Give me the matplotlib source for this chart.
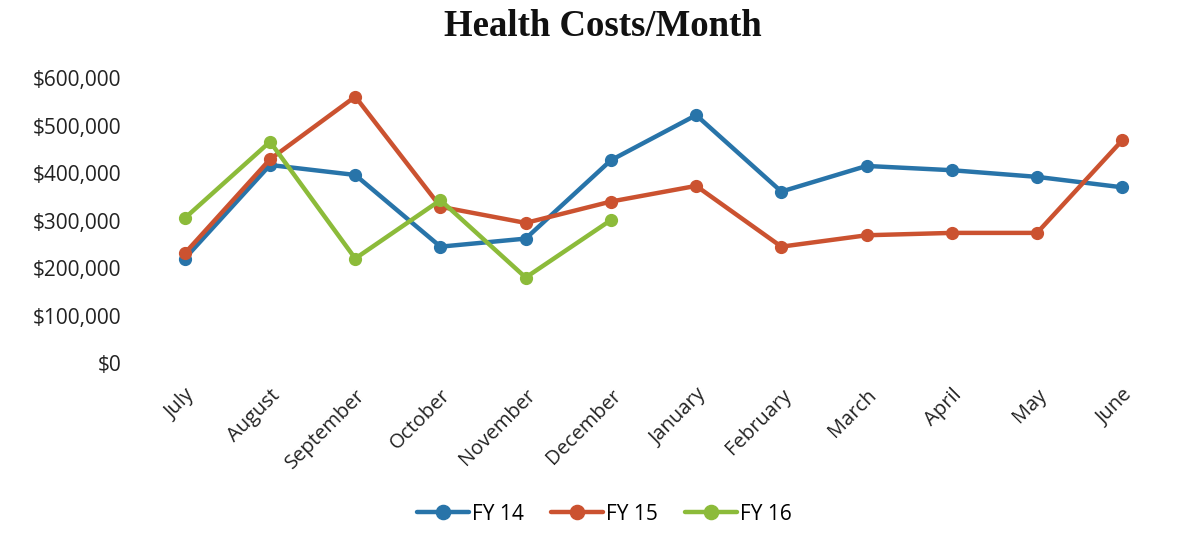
import matplotlib
matplotlib.use("Agg")
import matplotlib.pyplot as plt
from matplotlib.ticker import FuncFormatter

months = ["July", "August", "September", "October", "November", "December",
          "January", "February", "March", "April", "May", "June"]
fy14 = [220000, 417000, 396000, 245000, 262000, 427000,
        522000, 361000, 415000, 406000, 392000, 370000]
fy15 = [231000, 429000, 561000, 329000, 295000, 340000,
        373000, 245000, 269000, 274000, 274000, 469000]
fy16 = [305000, 466000, 220000, 343000, 180000, 301000]
series_names = ["FY 14", "FY 15", "FY 16"]
colors = ["#2874A9", "#CB5230", "#8CBB3A"]
yticks = [0, 100000, 200000, 300000, 400000, 500000, 600000]

fig = plt.figure(figsize=(11.85, 5.5), dpi=100)
ax = fig.add_axes([0.12, 0.34, 0.863, 0.518])

x = list(range(len(months)))
for vals, name, c in zip([fy14, fy15, fy16], series_names, colors):
    ax.plot(x[:len(vals)], vals, color=c, lw=3.2, marker="o", ms=8.5,
            label=name, solid_capstyle="round", solid_joinstyle="round")

ax.set_xlim(-0.5, len(months) - 0.5)
ax.set_ylim(0, 600000)
ax.set_yticks(yticks)
ax.yaxis.set_major_formatter(FuncFormatter(lambda v, p: "${:,.0f}".format(v)))
ax.set_xticks(x)
ax.set_xticklabels(months, rotation=45, ha="right", rotation_mode="anchor",
                   fontsize=14.5, family="Open Sans", color="#222222")
for lab in ax.get_yticklabels():
    lab.set_family("Open Sans")
    lab.set_fontsize(15)
    lab.set_color("#222222")
ax.tick_params(axis="y", length=0, pad=15)
ax.tick_params(axis="x", length=0, pad=16)
for s in ax.spines.values():
    s.set_visible(False)

fig.text(0.509, 0.952, "Health Costs/Month", ha="center", va="center",
         fontsize=26.5, fontweight="bold", family="Liberation Serif", color="#111111")

leg = fig.legend(loc="center", bbox_to_anchor=(0.51, 0.065), ncol=3, frameon=False,
                 prop={"family": "Open Sans", "size": 15}, handlelength=2.5,
                 columnspacing=1.3, handletextpad=0.15, markerscale=1.2)

fig.savefig("out.png", dpi=100)
